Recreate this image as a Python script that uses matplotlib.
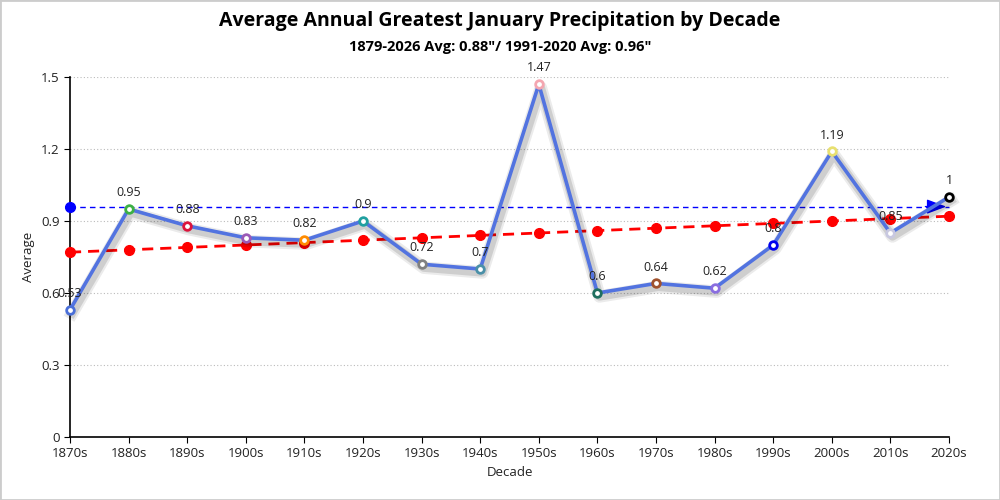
import matplotlib
matplotlib.use("Agg")
import matplotlib.pyplot as plt
import matplotlib.patheffects as pe
from matplotlib.patches import Rectangle

decades = ["1870s", "1880s", "1890s", "1900s", "1910s", "1920s", "1930s", "1940s",
           "1950s", "1960s", "1970s", "1980s", "1990s", "2000s", "2010s", "2020s"]
values = [0.53, 0.95, 0.88, 0.83, 0.82, 0.9, 0.72, 0.7, 1.47, 0.6, 0.64, 0.62, 0.8, 1.19, 0.85, 1.0]
trend = [0.77, 0.78, 0.79, 0.80, 0.81, 0.82, 0.83, 0.84, 0.85, 0.86, 0.87, 0.88, 0.89, 0.90, 0.91, 0.92]
normal_avg = 0.96
marker_colors = ["#4a6fd8", "#3cb043", "#dc143c", "#9b59b6", "#ff8c00", "#20a0a0", "#808080", "#4a90a8",
                 "#f4a6b0", "#1f6f5f", "#a0522d", "#8a6ee0", "#0000ee", "#e8e070", "#c8c8e0", "#000000"]
yticks = [0, 0.3, 0.6, 0.9, 1.2, 1.5]

plt.rcParams['font.family'] = ['Open Sans', 'DejaVu Sans']

fig = plt.figure(figsize=(10, 5), dpi=100)
ax = fig.add_axes([0.07, 0.126, 0.879, 0.72])
x = list(range(len(decades)))

ax.set_xlim(0, len(decades) - 1)
ax.set_ylim(0, 1.5)
ax.set_yticks(yticks)
ax.set_yticklabels([("%g" % t) for t in yticks])
ax.set_xticks(x)
ax.set_xticklabels(decades)
ax.tick_params(axis='both', labelsize=9.5, length=4, color='black', labelcolor='#222222')
ax.grid(axis='y', linestyle=(0, (1, 2)), color='#bbbbbb', linewidth=0.8)
ax.set_axisbelow(True)
for s in ['top', 'right']:
    ax.spines[s].set_visible(False)
ax.spines['left'].set_linewidth(1.2)
ax.spines['bottom'].set_linewidth(1.2)

ax.set_xlabel("Decade", fontsize=9.5, color='#222222')
ax.set_ylabel("Average", fontsize=9.5, color='#222222')

# normal average line
ax.plot([x[0], x[-1]], [normal_avg, normal_avg], color='#0000ff', linestyle=(0, (4, 3)),
        linewidth=1, zorder=3, clip_on=False)
ax.plot([x[0]], [normal_avg], 'o', color='#0000ff', markersize=7, zorder=4, clip_on=False)
ax.annotate("", xy=(x[-1], normal_avg), xytext=(x[-1] - 0.45, normal_avg),
            arrowprops=dict(arrowstyle='-|>,head_length=1.2,head_width=0.45', color='#0000ff', lw=1),
            zorder=4, annotation_clip=False)

# trend line
ax.plot(x, trend, color='#ff0000', linestyle=(0, (4, 2.5)), linewidth=2, marker='o',
        markersize=7, zorder=3, clip_on=False)

# main series
shadow = [pe.SimpleLineShadow(offset=(1.5, -2.5), shadow_color='black', alpha=0.12, linewidth=6),
          pe.SimpleLineShadow(offset=(1.5, -2.5), shadow_color='black', alpha=0.08, linewidth=9),
          pe.Normal()]
ax.plot(x, values, color='#5273e0', linewidth=2.6, zorder=5, clip_on=False, path_effects=shadow)
for xi, v, c in zip(x, values, marker_colors):
    ax.plot([xi], [v], 'o', markersize=5.5, markerfacecolor='white', markeredgecolor=c,
            markeredgewidth=2, zorder=6, clip_on=False)
    ax.annotate(("%g" % v), xy=(xi, v), xytext=(0, 7), textcoords='offset points',
                ha='center', va='bottom', fontsize=9, color='#222222', zorder=7)

fig.text(0.5, 0.958, "Average Annual Greatest January Precipitation by Decade",
         ha='center', va='center', fontsize=14, fontweight='bold', color='black')
fig.text(0.5, 0.907, "1879-2026 Avg: 0.88\"/ 1991-2020 Avg: 0.96\"",
         ha='center', va='center', fontsize=10.5, fontweight='bold', color='black')

fig.patches.append(Rectangle((0, 0), 1, 1, transform=fig.transFigure, fill=False,
                             edgecolor='#cccccc', linewidth=2))

fig.savefig("out.png", dpi=100)
